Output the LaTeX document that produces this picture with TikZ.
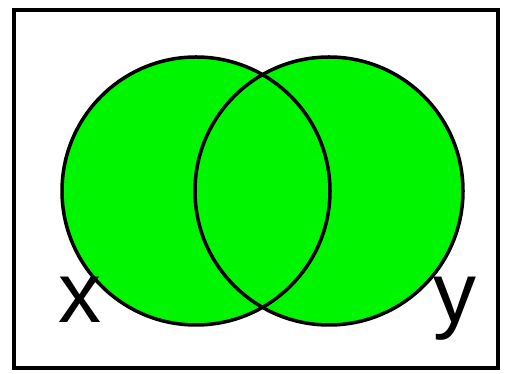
\documentclass[tikz,border=0pt]{standalone}
\usepackage{fontspec}
\setmainfont{Liberation Sans}
\usetikzlibrary{calc}

\definecolor{setgreen}{RGB}{0,245,0}

\begin{document}
\begin{tikzpicture}[x=1pt,y=1pt]

% picture size
\useasboundingbox (0,0) rectangle (505,374);

% radius of the sets
\def\R{134}

% universe
\coordinate (U1) at (14,6);
\coordinate (U2) at (498,364);
\draw[line width=4pt] (U1) rectangle (U2);

% centres
\coordinate (Cx) at (196,183);
\coordinate (Cy) at (329,183);

% sets
\fill[setgreen] (Cx) circle (\R);
\fill[setgreen] (Cy) circle (\R);
\draw[line width=3.5pt] (Cx) circle (\R);
\draw[line width=3.5pt] (Cy) circle (\R);

% labels
\node[anchor=base,inner sep=0pt,font=\fontsize{86}{86}\selectfont] (lx) at (80,51) {x};
\node[anchor=base,inner sep=0pt,font=\fontsize{86}{86}\selectfont] (ly) at (455,51) {y};

\end{tikzpicture}
\end{document}
